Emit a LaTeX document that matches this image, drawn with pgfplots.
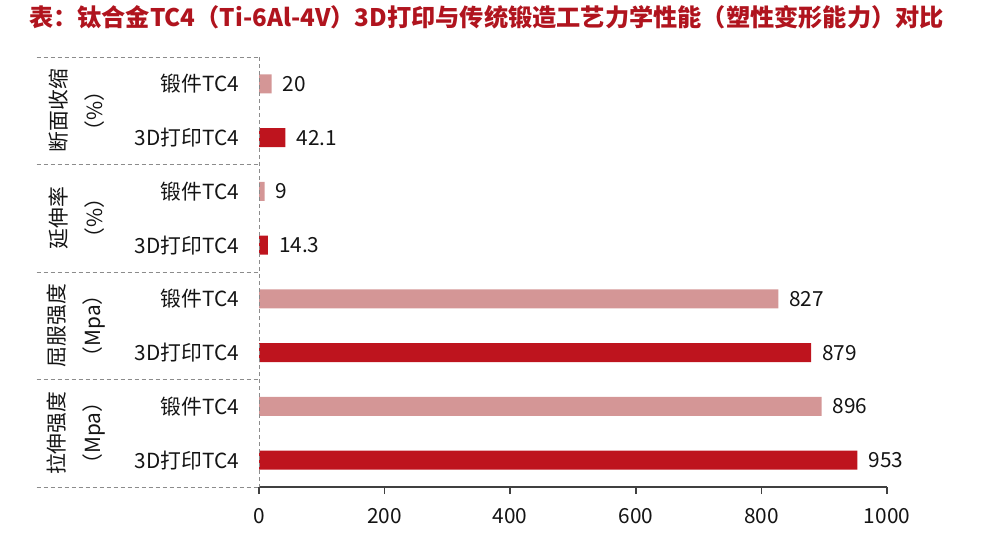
\documentclass[border=0pt]{standalone}
\usepackage{fontspec}
\setmainfont{Noto Sans CJK SC}
\usepackage{pgfplots}
\usepackage{pgfplotstable}
\pgfplotsset{compat=1.18}

\definecolor{forged}{HTML}{D49696}
\definecolor{printed}{HTML}{BE141E}
\definecolor{titlered}{HTML}{B0141E}
\definecolor{sepgray}{HTML}{8C8C8C}
\definecolor{txt}{HTML}{141414}

% p = row position from the top, v = value
\pgfplotstableread{
p v lbl
0 20 20
2 9 9
4 827 827
6 896 896
}\forgedtab
\pgfplotstableread{
p v lbl
1 42.1 42.1
3 14.3 14.3
5 879 879
7 953 953
}\printedtab

\tikzset{sep/.style={sepgray, dash pattern=on 2pt off 1.5pt, line width=0.5pt},
  grp/.style={rotate=90, align=center, text=txt, font=\fontsize{10.4}{18}\selectfont}}

\begin{document}
\begin{tikzpicture}
\useasboundingbox (0,0) rectangle (500pt,267.5pt);

\node[anchor=west, text=titlered, font=\fontsize{12.1}{14}\selectfont\bfseries]
  at (11pt,259pt) {表：钛合金TC4（Ti-6Al-4V）3D打印与传统锻造工艺力学性能（塑性变形能力）对比};

\begin{axis}[
    at={(129.5pt,24pt)}, anchor=south west,
    scale only axis,
    width=314pt, height=215pt,
    xmin=0, xmax=1000,
    ymin=-0.5, ymax=7.5,
    y dir=reverse,
    enlargelimits=false,
    clip=false,
    xbar, bar width=9.5pt, bar shift=0pt,
    axis x line*=bottom,
    axis y line*=left,
    y axis line style={draw=none},
    x axis line style={draw=black!75, line width=0.9pt},
    xtick={0,200,...,1000},
    tick align=outside,
    major tick length=3.5pt,
    xtick style={draw=black!75, line width=0.8pt},
    ytick={0,...,7},
    yticklabels={锻件TC4,3D打印TC4,锻件TC4,3D打印TC4,锻件TC4,3D打印TC4,锻件TC4,3D打印TC4},
    ytick style={draw=none},
    tick label style={font=\fontsize{10.4}{12}\selectfont, text=txt},
    yticklabel style={xshift=-3pt},
    xticklabel style={yshift=-3.5pt},
    /pgf/number format/assume math mode=true,
    /pgf/number format/1000 sep={},
    nodes near coords,
    point meta=explicit symbolic,
    every node near coord/.append style={anchor=west, xshift=2pt,
        font=\fontsize{10.4}{12}\selectfont, text=txt},
]
\addplot[draw=none, fill=forged] table[x=v, y=p, meta=lbl] {\forgedtab};
\addplot[draw=none, fill=printed] table[x=v, y=p, meta=lbl] {\printedtab};

% axis line on the left and group separators
\draw[sep] (axis cs:0,-0.5) -- (axis cs:0,7.5);
\draw[sep] (axis cs:-354,-0.5) -- (axis cs:0,-0.5);
\draw[sep] (axis cs:-354,1.5) -- (axis cs:0,1.5);
\draw[sep] (axis cs:-354,3.5) -- (axis cs:0,3.5);
\draw[sep] (axis cs:-354,5.5) -- (axis cs:0,5.5);
\draw[sep] (axis cs:-354,7.5) -- (axis cs:0,7.5);

% group labels
\node[grp] at (axis cs:-291,0.5) {断面收缩\\（\%）};
\node[grp] at (axis cs:-291,2.5) {延伸率\\（\%）};
\node[grp] at (axis cs:-291,4.5) {屈服强度\\（Mpa）};
\node[grp] at (axis cs:-291,6.5) {拉伸强度\\（Mpa）};
\end{axis}
\end{tikzpicture}
\end{document}
